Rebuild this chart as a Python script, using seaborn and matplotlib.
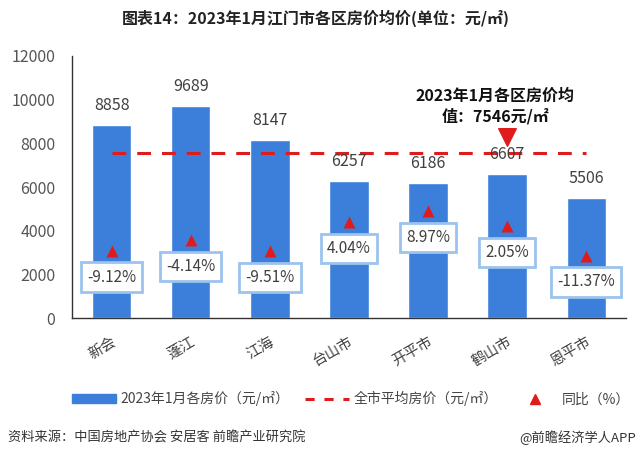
import matplotlib
matplotlib.use("Agg")
import matplotlib.pyplot as plt
import seaborn as sns
import pandas as pd
from matplotlib.patches import Patch
from matplotlib.lines import Line2D

districts = ["新会", "蓬江", "江海", "台山市", "开平市", "鹤山市", "恩平市"]
prices = [8858, 9689, 8147, 6257, 6186, 6607, 5506]
yoy = [-9.12, -4.14, -9.51, 4.04, 8.97, 2.05, -11.37]
avg_price = 7546
avg_line = [avg_price] * len(districts)
y_ticks = [0, 2000, 4000, 6000, 8000, 10000, 12000]

title = "图表14：2023年1月江门市各区房价均价(单位：元/㎡)"
avg_note = "2023年1月各区房价均\n值：7546元/㎡"
legend_labels = ["2023年1月各房价（元/㎡）", "全市平均房价（元/㎡）", "同比（%）"]
source = "资料来源：中国房地产协会 安居客 前瞻产业研究院"
brand = "@前瞻经济学人APP"

sns.set_theme(style="white")
plt.rcParams["font.family"] = ["Noto Sans CJK SC", "DejaVu Sans"]

BLUE = "#3b7fdb"
RED = "#e01b1b"
GRAY = "#555555"

df = pd.DataFrame({"district": districts, "price": prices, "yoy": yoy, "avg": avg_line})

fig = plt.figure(figsize=(6.4, 4.59), dpi=100)
ax = fig.add_axes([0.1125, 0.307, 0.8656, 0.571])

sns.barplot(data=df, x="district", y="price", color=BLUE, width=0.5,
            saturation=1, ax=ax)
sns.lineplot(data=df, x="district", y="avg", sort=False, color=RED,
             linewidth=2.2, ax=ax)
ax.lines[-1].set_dashes((4.5, 3.6))

ax.set_ylim(0, 12000)
ax.set_xlim(-0.5, 6.5)
ax.set_yticks(y_ticks)
ax.set_yticklabels([str(v) for v in y_ticks], color=GRAY, fontsize=11.5)
ax.tick_params(axis="y", length=0, pad=12)
ax.set_xlabel("")
ax.set_ylabel("")
ax.set_xticks(range(len(districts)))
ax.set_xticklabels(districts, rotation=30, ha="right", rotation_mode="anchor",
                   fontsize=10.5, color="#404040")
ax.tick_params(axis="x", length=0, pad=12)
ax.set_xticks([i - 0.5 for i in range(len(districts) + 1)], minor=True)
ax.tick_params(axis="x", which="minor", length=5, width=1, color="#333333", direction="out")
for s in ["top", "right"]:
    ax.spines[s].set_visible(False)
ax.spines["left"].set_color("#333333")
ax.spines["bottom"].set_color("#333333")
ax.spines["left"].set_linewidth(1)
ax.spines["bottom"].set_linewidth(1)

for i, v in enumerate(prices):
    ax.annotate(str(v), (i, v), xytext=(0, 8), textcoords="offset points",
                ha="center", va="bottom", fontsize=11.5, color="#404040")

ax2 = ax.twinx()
sns.scatterplot(data=df, x="district", y="yoy", marker="^", s=75, color=RED,
                edgecolor=RED, linewidth=0, ax=ax2, zorder=5)
ax2.set_ylim(-40, 80)
ax2.set_xlim(-0.5, 6.5)
ax2.axis("off")
for i, v in enumerate(yoy):
    ax2.annotate(f"{v:.2f}%", (i, v), xytext=(0, -19), textcoords="offset points",
                 ha="center", va="center", fontsize=11, color="#404040",
                 bbox=dict(boxstyle="square,pad=0.4", fc="white", ec="#9cc3ee", lw=2),
                 zorder=6)

ax.text(4.85, 9700, avg_note, ha="center", va="center", fontsize=11.5,
        fontweight="bold", color="#111111", linespacing=1.35)
ax.scatter([5], [8300], marker="v", s=160, color=RED, zorder=5)

fig.text(0.494, 0.96, title, ha="center", va="center", fontsize=11.5,
         fontweight="bold", color="#222222")

handles = [Patch(color=BLUE),
           Line2D([0], [0], color=RED, lw=2.2, dashes=(3, 3.2)),
           Line2D([0], [0], color=RED, marker="^", ls="none", markersize=7)]
fig.legend(handles, legend_labels, loc="center", bbox_to_anchor=(0.548, 0.131),
           ncol=3, frameon=False, fontsize=10, handlelength=3.2, handleheight=0.55,
           columnspacing=1.1, handletextpad=0.3, labelcolor="#444444")

fig.text(0.012, 0.047, source, ha="left", va="center", fontsize=9.5, color="#333333")
fig.text(0.993, 0.047, brand, ha="right", va="center", fontsize=9.5, color="#333333")

fig.savefig("out.png", dpi=100, facecolor="white")
